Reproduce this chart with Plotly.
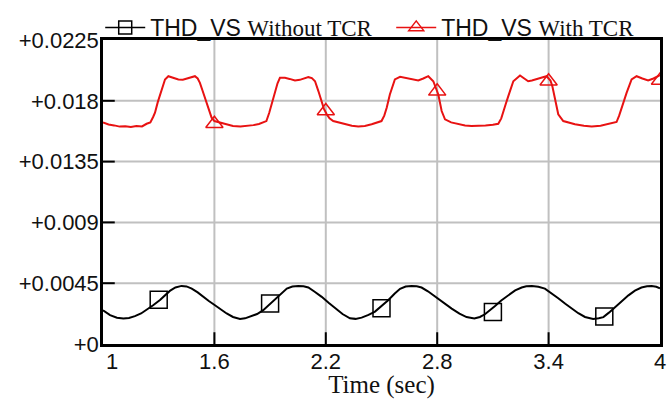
import plotly.graph_objects as go

# THD of the supply voltage, without and with the TCR connected
t_without = [1.00, 1.038, 1.075, 1.11, 1.14, 1.172, 1.205, 1.235, 1.27, 1.307, 1.335, 1.36, 1.39,
             1.423, 1.45, 1.478, 1.51, 1.54, 1.57, 1.603, 1.635, 1.666, 1.70, 1.738, 1.765, 1.792,
             1.83, 1.863, 1.895, 1.926, 1.96, 1.99, 2.02, 2.052, 2.08, 2.106, 2.14, 2.178, 2.215,
             2.25, 2.29, 2.33, 2.36, 2.393, 2.43, 2.465, 2.50, 2.536, 2.57, 2.60, 2.63, 2.662, 2.69,
             2.716, 2.75, 2.788, 2.83, 2.878, 2.92, 2.958, 3.00, 3.03, 3.057, 3.085, 3.11, 3.145,
             3.183, 3.22, 3.255, 3.28, 3.31, 3.345, 3.38, 3.415, 3.452, 3.49, 3.524, 3.56, 3.596,
             3.64, 3.67, 3.695, 3.725, 3.757, 3.79, 3.83, 3.865, 3.90, 3.93, 3.955, 3.98, 4.00]
thd_without = [0.00250, 0.00214, 0.00195, 0.00189, 0.00193, 0.00206, 0.00226, 0.00252, 0.00287,
               0.00326, 0.00362, 0.00393, 0.00418, 0.00430, 0.00426, 0.00410, 0.00382, 0.00349,
               0.00318, 0.00287, 0.00255, 0.00226, 0.00200, 0.00185, 0.00190, 0.00201, 0.00222,
               0.00250, 0.00290, 0.00333, 0.00378, 0.00410, 0.00425, 0.00430, 0.00428, 0.00418,
               0.00387, 0.00349, 0.00305, 0.00263, 0.00222, 0.00190, 0.00186, 0.00195, 0.00215,
               0.00240, 0.00278, 0.00324, 0.00372, 0.00408, 0.00425, 0.00430, 0.00427, 0.00418,
               0.00390, 0.00351, 0.00305, 0.00262, 0.00225, 0.00199, 0.00189, 0.00200, 0.00220,
               0.00250, 0.00280, 0.00322, 0.00362, 0.00397, 0.00418, 0.00427, 0.00430, 0.00424,
               0.00410, 0.00377, 0.00339, 0.00298, 0.00263, 0.00228, 0.00200, 0.00185, 0.00190,
               0.00199, 0.00232, 0.00272, 0.00316, 0.00360, 0.00395, 0.00418, 0.00427, 0.00430,
               0.00424, 0.00412]

t_with = [1.00, 1.03, 1.06, 1.09, 1.12, 1.15, 1.18, 1.21, 1.235, 1.255, 1.27, 1.28, 1.295, 1.307,
          1.32, 1.334, 1.352, 1.37, 1.39, 1.406, 1.43, 1.45, 1.47, 1.495, 1.51, 1.522, 1.535,
          1.549, 1.567, 1.585, 1.60, 1.63, 1.66, 1.70, 1.74, 1.774, 1.81, 1.84, 1.863, 1.88,
          1.895, 1.908, 1.926, 1.94, 1.953, 1.98, 2.005, 2.034, 2.06, 2.085, 2.106, 2.125, 2.142,
          2.16, 2.178, 2.19, 2.205, 2.22, 2.24, 2.27, 2.303, 2.34, 2.375, 2.41, 2.447, 2.475,
          2.50, 2.515, 2.528, 2.545, 2.558, 2.572, 2.60, 2.63, 2.66, 2.698, 2.725, 2.752, 2.779,
          2.795, 2.806, 2.824, 2.842, 2.875, 2.913, 2.95, 2.985, 3.02, 3.06, 3.10, 3.129, 3.145,
          3.156, 3.17, 3.183, 3.197, 3.21, 3.246, 3.27, 3.29, 3.31, 3.335, 3.36, 3.389, 3.41,
          3.42, 3.434, 3.452, 3.479, 3.51, 3.542, 3.59, 3.632, 3.68, 3.72, 3.766, 3.78, 3.793,
          3.82, 3.847, 3.874, 3.905, 3.936, 3.965, 3.99, 4.00]
thd_with = [0.01640, 0.01625, 0.01618, 0.01609, 0.01612, 0.01606, 0.01614, 0.01610, 0.01630,
            0.01640, 0.01680, 0.01712, 0.01790, 0.01847, 0.01905, 0.01958, 0.01982, 0.01975,
            0.01968, 0.01958, 0.01956, 0.01963, 0.01972, 0.01982, 0.01965, 0.01933, 0.01880,
            0.01822, 0.01749, 0.01675, 0.01650, 0.01638, 0.01625, 0.01614, 0.01610, 0.01614,
            0.01620, 0.01628, 0.01638, 0.01650, 0.01710, 0.01774, 0.01872, 0.01930, 0.01970,
            0.01970, 0.01962, 0.01950, 0.01955, 0.01968, 0.01975, 0.01968, 0.01945, 0.01872,
            0.01786, 0.01740, 0.01700, 0.01670, 0.01650, 0.01638, 0.01626, 0.01615, 0.01609,
            0.01614, 0.01626, 0.01638, 0.01650, 0.01690, 0.01749, 0.01847, 0.01910, 0.01958,
            0.01977, 0.01968, 0.01958, 0.01950, 0.01965, 0.01982, 0.01945, 0.01890, 0.01847,
            0.01724, 0.01663, 0.01640, 0.01626, 0.01618, 0.01614, 0.01614, 0.01618, 0.01622,
            0.01630, 0.01670, 0.01724, 0.01780, 0.01835, 0.01890, 0.01945, 0.01987, 0.01965,
            0.01945, 0.01950, 0.01958, 0.01970, 0.01982, 0.01950, 0.01909, 0.01822, 0.01700,
            0.01650, 0.01636, 0.01626, 0.01615, 0.01609, 0.01615, 0.01626, 0.01643, 0.01690,
            0.01749, 0.01859, 0.01958, 0.01982, 0.01965, 0.01950, 0.01965, 0.01982, 0.01990]

# marker positions along each trace
mark_t_without = [1.3, 1.9, 2.5, 3.1, 3.7]
mark_v_without = [0.00328, 0.00300, 0.00265, 0.00237, 0.00204]
mark_t_with = [1.6, 2.2, 2.8, 3.4, 4.0]
mark_v_with = [0.01630, 0.01724, 0.01870, 0.01945, 0.01950]

x_ticks = [1, 1.6, 2.2, 2.8, 3.4, 4]
x_tick_labels = ["\u00a0\u00a0\u00a01", "1.6", "2.2", "2.8", "3.4", "4"]
y_ticks = [0, 0.0045, 0.009, 0.0135, 0.018, 0.0225]
y_tick_labels = ["+0", "+0.0045", "+0.009", "+0.0135", "+0.018", "+0.0225"]

BLACK = "#000000"
RED = "#e81212"
GRID = "#c0c0c0"
SANS = "Liberation Sans, Arial, sans-serif"
SERIF = "Liberation Serif, Times New Roman, serif"

fig = go.Figure()

series = [
    ("THD_VS <span style='font-family:Liberation Serif'>Without TCR</span>", t_without, thd_without,
     mark_t_without, mark_v_without, BLACK, "square-open", 17),
    ("THD_VS <span style='font-family:Liberation Serif'>With TCR</span>", t_with, thd_with,
     mark_t_with, mark_v_with, RED, "triangle-up-open", 15),
]
for i, (name, tx, vy, mx, my, col, sym, ms) in enumerate(series):
    grp = f"g{i}"
    fig.add_trace(go.Scatter(x=tx, y=vy, mode="lines", line=dict(color=col, width=2),
                             legendgroup=grp, showlegend=False, hoverinfo="skip"))
    fig.add_trace(go.Scatter(x=mx, y=my, mode="markers",
                             marker=dict(symbol=sym, size=ms, color=col, line=dict(color=col, width=1.5)),
                             legendgroup=grp, showlegend=False, hoverinfo="skip"))
    # legend entry: line with the marker symbol in the middle
    fig.add_trace(go.Scatter(x=[None], y=[None], mode="lines+markers", name=name,
                             line=dict(color=col, width=1.5),
                             marker=dict(symbol=sym, size=13, color=col, line=dict(color=col, width=1.5)),
                             legendgroup=grp))

axis_style = dict(
    type="linear", tickmode="array",
    showline=True, linecolor=BLACK, linewidth=2.5, mirror=True,
    ticks="inside", ticklen=12, tickwidth=2, tickcolor=BLACK,
    showgrid=True, gridcolor=GRID, gridwidth=1.5, zeroline=False,
    tickfont=dict(family=SANS, size=22, color="#111111"),
)

fig.update_layout(
    template="none",
    width=672, height=399,
    margin=dict(l=103, r=12, t=40, b=55, autoexpand=False),
    paper_bgcolor="white", plot_bgcolor="white",
    showlegend=True,
    legend=dict(orientation="h", x=-0.005, xanchor="left", y=1.112, yanchor="top",
                font=dict(family=SANS, size=23, color="#111111"),
                bgcolor="rgba(0,0,0,0)", borderwidth=0, itemwidth=40,
                entrywidth=236, entrywidthmode="pixels"),
    xaxis=dict(range=[1, 4], tickvals=x_ticks, ticktext=x_tick_labels, ticklabelstandoff=-4,
               title=dict(text="Time (sec)", font=dict(family=SERIF, size=25, color="#111111"),
                          standoff=8),
               **axis_style),
    yaxis=dict(range=[0, 0.0225], tickvals=y_ticks, ticktext=y_tick_labels, ticklabelstandoff=-3,
               **axis_style),
)

# soften the frame, grid and tick strokes (anti-aliased instead of crisp edges)
frame_js = """
var st = document.createElement('style');
st.textContent = '.js-plotly-plot .plotly .crisp { shape-rendering: auto !important; }';
document.head.appendChild(st);
"""
fig.write_html("out.html", post_script=frame_js)
